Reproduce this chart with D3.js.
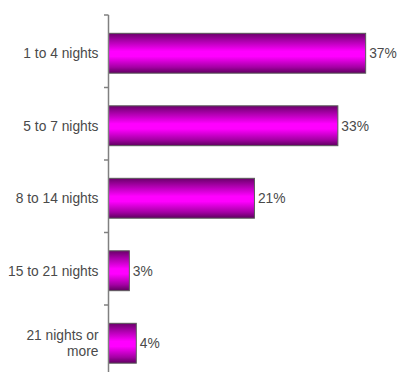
<!DOCTYPE html>
<html>
<head>
<meta charset="utf-8">
<script src="https://cdn.jsdelivr.net/npm/d3@7"></script>
<style>
  html, body { margin: 0; padding: 0; background: #fff; }
  svg { display: block; }
  text { font-family: "Liberation Sans", Arial, sans-serif; }
</style>
</head>
<body>
<svg id="chart" width="398" height="372"></svg>
<script>
// Length of stay, share of trips (%)
const categories = ["1 to 4 nights", "5 to 7 nights", "8 to 14 nights", "15 to 21 nights", "21 nights or more"];
const categoryLines = [["1 to 4 nights"], ["5 to 7 nights"], ["8 to 14 nights"], ["15 to 21 nights"], ["21 nights or", "more"]];
const values = [37, 33, 21, 3, 4];

const svg = d3.select("#chart");
const axisX = 108.5;
const fontSize = 13.8;
const textColor = "#4a4a4a";

// Category bands (tick positions) and the bars inside them
const y = d3.scaleBand().domain(categories).range([15, 377.5]).padding(0);
const yBar = d3.scaleBand().domain(categories).range([17, 379.5]).paddingInner(0.45).paddingOuter(0.225);
const x = d3.scaleLinear().domain([0, 40]).range([axisX, axisX + 278]);

// Vertical shading on the bars
const defs = svg.append("defs");
const grad = defs.append("linearGradient").attr("id", "barShade")
  .attr("x1", 0).attr("y1", 0).attr("x2", 0).attr("y2", 1);
[[0, "#6a006a"], [0.18, "#a800a8"], [0.45, "#ff00ff"], [0.58, "#ff00ff"], [0.85, "#a400a4"], [1, "#5e005e"]]
  .forEach(([o, c]) => grad.append("stop").attr("offset", o).attr("stop-color", c));

// Bars
svg.append("g").selectAll("rect")
  .data(categories)
  .join("rect")
  .attr("x", axisX)
  .attr("y", d => yBar(d))
  .attr("width", (d, i) => x(values[i]) - axisX)
  .attr("height", yBar.bandwidth())
  .attr("fill", "url(#barShade)")
  .attr("stroke", "#5a5a5a")
  .attr("stroke-width", 1);

// Value labels
svg.append("g").selectAll("text")
  .data(categories)
  .join("text")
  .attr("x", (d, i) => x(values[i]) + 3.5)
  .attr("y", d => yBar(d) + yBar.bandwidth() / 2)
  .attr("dy", "0.35em")
  .attr("font-size", fontSize)
  .attr("fill", textColor)
  .text((d, i) => values[i] + "%");

// Category axis: line with ticks at band boundaries
const axisG = svg.append("g");
axisG.append("line")
  .attr("x1", axisX).attr("x2", axisX)
  .attr("y1", y.range()[0]).attr("y2", y.range()[1])
  .attr("stroke", "#808080").attr("stroke-width", 1.5);
axisG.selectAll("line.tick")
  .data(categories)
  .join("line")
  .attr("class", "tick")
  .attr("x1", axisX - 4.5).attr("x2", axisX)
  .attr("y1", d => y(d)).attr("y2", d => y(d))
  .attr("stroke", "#808080").attr("stroke-width", 1.5);

// Category labels
const labels = axisG.selectAll("text")
  .data(categories)
  .join("text")
  .attr("text-anchor", "end")
  .attr("font-size", fontSize)
  .attr("fill", textColor)
  .attr("y", d => yBar(d) + yBar.bandwidth() / 2);
labels.each(function(d, i) {
  const lines = categoryLines[i];
  const t = d3.select(this);
  const lh = 16;
  lines.forEach((s, k) => {
    t.append("tspan")
      .attr("x", 98.5)
      .attr("dy", k === 0 ? (0.35 * fontSize - (lines.length - 1) * 0.5 * lh) + "px" : lh + "px")
      .text(s);
  });
});
</script>
</body>
</html>
